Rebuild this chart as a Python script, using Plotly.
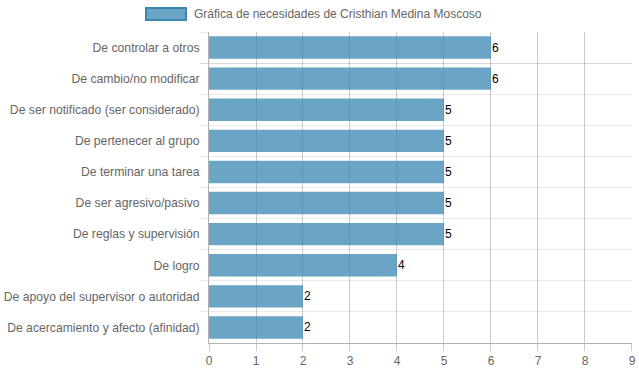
import plotly.graph_objects as go

categories = [
    "De controlar a otros",
    "De cambio/no modificar",
    "De ser notificado (ser considerado)",
    "De pertenecer al grupo",
    "De terminar una tarea",
    "De ser agresivo/pasivo",
    "De reglas y supervisión",
    "De logro",
    "De apoyo del supervisor o autoridad",
    "De acercamiento y afecto (afinidad)",
]
values = [6, 6, 5, 5, 5, 5, 5, 4, 2, 2]
series_name = "Gráfica de necesidades de Cristhian Medina Moscoso"
x_ticks = list(range(0, 10))

W, H = 639, 372
L, R, T, B = 209, 7, 32, 29
pw, ph = W - L - R, H - T - B

def px_x(x):
    return (x - L) / pw

def px_y(y):
    return (H - B - y) / ph

bar_fill = "rgba(58,135,179,0.75)"
bar_line = "rgba(58,135,179,1)"

fig = go.Figure(
    go.Bar(
        x=values,
        y=categories,
        orientation="h",
        marker=dict(color=bar_fill, line=dict(width=0)),
        name=series_name,
        showlegend=False,
        hoverinfo="x+y",
    )
)

value_labels = [
    dict(
        x=v,
        y=c,
        xref="x",
        yref="y",
        text=str(v),
        showarrow=False,
        xanchor="left",
        yanchor="middle",
        xshift=-1,
        font=dict(color="#000", size=12),
    )
    for c, v in zip(categories, values)
]

fig.update_layout(
    width=W,
    height=H,
    margin=dict(l=L, r=R, t=T, b=B, pad=0),
    paper_bgcolor="white",
    plot_bgcolor="white",
    bargap=0.28,
    font=dict(family="Liberation Sans, Arial, sans-serif", size=12, color="#666"),
    xaxis=dict(
        range=[0, 9.0005],
        tickvals=x_ticks,
        automargin=False,
        showgrid=True,
        gridcolor="rgba(0,0,0,0.2)",
        gridwidth=1,
        zeroline=False,
        showline=True,
        linecolor="rgba(0,0,0,0.3)",
        ticks="outside",
        ticklen=7,
        tickcolor="rgba(0,0,0,0.2)",
        tickfont=dict(size=12, color="#666"),
    ),
    yaxis=dict(
        autorange="reversed",
        automargin=False,
        tickson="boundaries",
        showgrid=True,
        gridcolor="rgba(0,0,0,0.08)",
        gridwidth=1,
        showline=True,
        linecolor="rgba(0,0,0,0.3)",
        ticks="outside",
        ticklen=8,
        tickcolor="rgba(0,0,0,0.08)",
        tickfont=dict(size=12.2, color="#666"),
        ticklabelstandoff=6,
    ),
    shapes=[
        dict(
            type="rect",
            xref="paper",
            yref="paper",
            x0=px_x(146),
            x1=px_x(186),
            y0=px_y(20),
            y1=px_y(8),
            fillcolor=bar_fill,
            line=dict(color=bar_line, width=2),
            layer="above",
        )
    ],
    annotations=value_labels + [
        dict(
            xref="paper",
            yref="paper",
            x=px_x(192),
            y=px_y(14),
            xanchor="left",
            yanchor="middle",
            text=series_name,
            showarrow=False,
            font=dict(size=12, color="#666"),
        )
    ],
)

fig.write_html(
    "out.html",
    config={"displayModeBar": False},
    post_script="document.body.style.margin='0';document.body.style.padding='0';",
)
